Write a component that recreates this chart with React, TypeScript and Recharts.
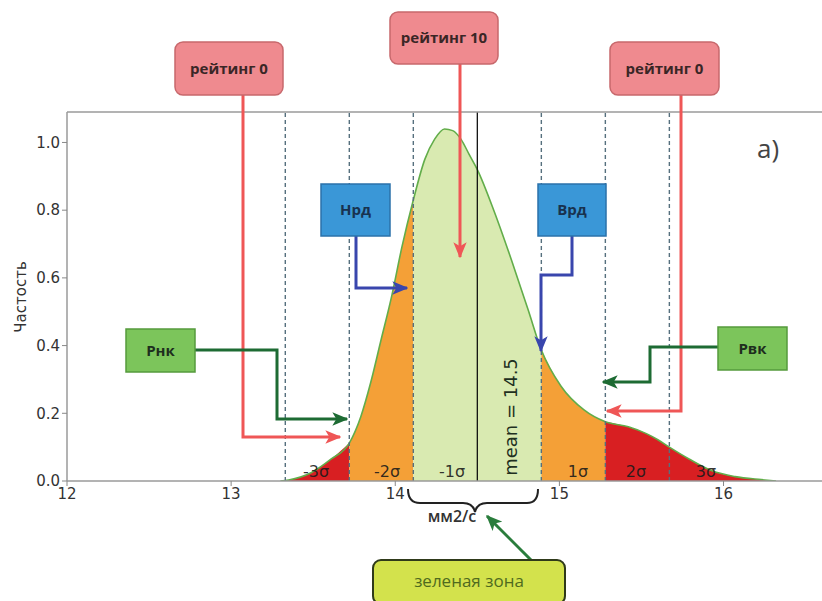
import React from 'react';
import { ComposedChart, Area, Line, XAxis, YAxis, ReferenceLine } from 'recharts';

// ---- data ----
const xValues = [13.30, 13.35, 13.49, 13.61, 13.72, 13.79, 13.85, 13.91, 13.98, 14.04, 14.11, 14.18, 14.24, 14.30, 14.35, 14.40, 14.45, 14.50, 14.60, 14.71, 14.81, 14.89, 15.01, 15.15, 15.28, 15.42, 15.53, 15.60, 15.67, 15.79, 15.93, 16.07, 16.23, 16.32];
const frequency = [0.0, 0.003, 0.025, 0.065, 0.112, 0.19, 0.29, 0.41, 0.55, 0.69, 0.83, 0.95, 1.01, 1.04, 1.035, 1.01, 0.965, 0.92, 0.80, 0.65, 0.505, 0.387, 0.28, 0.21, 0.175, 0.16, 0.14, 0.122, 0.10, 0.065, 0.03, 0.013, 0.004, 0.0];
const meanValue = 14.5;
const sigmaLines = [13.33, 13.72, 14.11, 14.89, 15.28, 15.67];
const xTicks = [12, 13, 14, 15, 16];
const yTicks = [0, 0.2, 0.4, 0.6, 0.8, 1.0];
const bandKeys = ['redL', 'orangeL', 'green', 'orangeR', 'redR'];
const bandFrom = [13.30, 13.72, 14.11, 14.89, 15.28];
const bandTo = [13.72, 14.11, 14.89, 15.28, 16.32];
const bandColors = ['#d81f22', '#f4a037', '#d9eab1', '#f4a037', '#d81f22'];
const sigmaLabels = ['-3σ', '-2σ', '-1σ', '1σ', '2σ', '3σ'];

const data = xValues.map((x, i) => {
  const row: Record<string, number | null> = { x, y: frequency[i] };
  bandKeys.forEach((k, b) => {
    row[k] = x >= bandFrom[b] - 1e-9 && x <= bandTo[b] + 1e-9 ? frequency[i] : null;
  });
  return row;
});

const RED = '#ef5656';
const BLUE = '#3946ad';
const DGREEN = '#1d6b33';
const FONT = '"DejaVu Sans", sans-serif';
const BOXFONT = '"Open Sans", "DejaVu Sans", sans-serif';

function Marker({ id, color }: { id: string; color: string }) {
  return (
    <marker id={id} viewBox="0 0 12 10" refX="11" refY="5" markerWidth="16" markerHeight="14" markerUnits="userSpaceOnUse" orient="auto">
      <path d="M0,0 L12,5 L0,10 L3,5 z" fill={color} />
    </marker>
  );
}

function Box({ x, y, w, h, fill, stroke, text, color, r = 0, size = 15 }: any) {
  return (
    <g>
      <rect x={x} y={y} width={w} height={h} rx={r} ry={r} fill={fill} stroke={stroke} strokeWidth={1.5} />
      <text x={x + w / 2} y={y + h / 2 + size * 0.36} textAnchor="middle" fontFamily={BOXFONT} fontWeight={700} fontSize={size} fill={color}>{text}</text>
    </g>
  );
}

function Overlay() {
  const sigmaX = [316, 387, 452, 578, 636, 706];
  return (
    <svg width={822} height={601} style={{ position: 'absolute', left: 0, top: 0, pointerEvents: 'none' }}>
      <defs>
        <Marker id="mRed" color={RED} />
        <Marker id="mBlue" color={BLUE} />
        <Marker id="mGreen" color={DGREEN} />
        <Marker id="mGreen2" color="#2a7d3c" />
      </defs>
      {/* top frame */}
      <line x1={67} y1={112} x2={822} y2={112} stroke="#9a9a9a" strokeWidth={1.5} />
      {/* y label */}
      <text transform="translate(26,297) rotate(-90)" textAnchor="middle" fontFamily={FONT} fontSize={15} fill="#333">Частость</text>
      {/* sigma labels */}
      {sigmaLabels.map((s, i) => (
        <text key={s} x={sigmaX[i]} y={477} textAnchor="middle" fontFamily={FONT} fontSize={16} fill="#1a1a1a" fillOpacity={0.9}>{s}</text>
      ))}
      <text transform="translate(517,417) rotate(-90)" textAnchor="middle" fontFamily={FONT} fontSize={18} fill="#1f301f">mean = 14.5</text>
      <text x={768} y={158} textAnchor="middle" fontFamily={BOXFONT} fontSize={26} fill="#444">a)</text>

      {/* red arrows */}
      <polyline points="243,95 243,437 340,437" fill="none" stroke={RED} strokeWidth={3} markerEnd="url(#mRed)" />
      <polyline points="460,64 460,257" fill="none" stroke={RED} strokeWidth={3} markerEnd="url(#mRed)" />
      <polyline points="681,95 681,411 607,411" fill="none" stroke={RED} strokeWidth={3} markerEnd="url(#mRed)" />
      {/* blue arrows */}
      <polyline points="356,236 356,288 407,288" fill="none" stroke={BLUE} strokeWidth={3} markerEnd="url(#mBlue)" />
      <polyline points="572,236 572,275 541,275 541,351" fill="none" stroke={BLUE} strokeWidth={3} markerEnd="url(#mBlue)" />
      {/* green arrows */}
      <polyline points="195,350 277,350 277,419 347,419" fill="none" stroke={DGREEN} strokeWidth={3} markerEnd="url(#mGreen)" />
      <polyline points="718,347 650,347 650,382 603,382" fill="none" stroke={DGREEN} strokeWidth={3} markerEnd="url(#mGreen)" />
      <polyline points="531,560 487,516" fill="none" stroke="#2a7d3c" strokeWidth={3} markerEnd="url(#mGreen2)" />

      {/* boxes */}
      <Box x={175} y={42} w={108} h={53} r={8} fill="#ef8a8f" stroke="#c7686c" text="рейтинг 0" color="#3a2626" />
      <Box x={390} y={12} w={108} h={52} r={8} fill="#ef8a8f" stroke="#c7686c" text="рейтинг 10" color="#3a2626" />
      <Box x={610} y={42} w={109} h={53} r={8} fill="#ef8a8f" stroke="#c7686c" text="рейтинг 0" color="#3a2626" />
      <Box x={321} y={184} w={69} h={52} fill="#3a97d7" stroke="#2b72aa" text="Нрд" color="#18324f" />
      <Box x={538} y={184} w={68} h={52} fill="#3a97d7" stroke="#2b72aa" text="Врд" color="#18324f" />
      <Box x={126} y={329} w={69} h={43} fill="#7cc55b" stroke="#559a3d" text="Рнк" color="#1e2e1e" />
      <Box x={718} y={327} w={69} h={43} fill="#7cc55b" stroke="#559a3d" text="Рвк" color="#1e2e1e" />

      {/* brace */}
      <path d="M408,489 Q408,503 420,503 L463,503 Q473,503 475,512 Q477,503 487,503 L527,503 Q538,503 538,489" fill="none" stroke="#222" strokeWidth={2} />
      <text x={452} y={522} textAnchor="middle" fontFamily={BOXFONT} fontWeight={600} fontSize={16} fill="#333">мм2/с</text>

      {/* green zone box */}
      <rect x={373} y={560} width={192} height={44} rx={8} ry={8} fill="#d3e24c" stroke="#2f3a1a" strokeWidth={2} />
      <text x={469} y={587} textAnchor="middle" fontFamily={BOXFONT} fontSize={17} fill="#4f6a1e">зеленая зона</text>
    </svg>
  );
}

export default function App() {
  return (
    <div style={{ position: 'absolute', left: 0, top: 0, width: 822, height: 601, background: '#fff', overflow: 'hidden' }}>
      <ComposedChart width={822} height={601} data={data} margin={{ top: 112, right: 0, bottom: 90, left: 0 }}>
        <XAxis dataKey="x" type="number" domain={[12, 16.6]} ticks={xTicks} allowDataOverflow height={30}
          tick={{ fontSize: 15, fill: '#333', fontFamily: FONT }} tickLine={{ stroke: '#888' }} tickSize={5}
          axisLine={{ stroke: '#9a9a9a', strokeWidth: 1.5 }} />
        <YAxis type="number" domain={[0, 1.09]} ticks={yTicks} allowDataOverflow width={67}
          tickFormatter={(v: number) => v.toFixed(1)}
          tick={{ fontSize: 15, fill: '#333', fontFamily: FONT }} tickLine={{ stroke: '#888' }} tickSize={5}
          axisLine={{ stroke: '#9a9a9a', strokeWidth: 1.5 }} />
        {bandKeys.map((k, b) => (
          <Area key={k} dataKey={k} type="monotone" fill={bandColors[b]} fillOpacity={1} stroke="none"
            isAnimationActive={false} connectNulls={false} dot={false} activeDot={false} />
        ))}
        <Line dataKey="y" type="monotone" stroke="#62ad4a" strokeWidth={1.6} dot={false} activeDot={false} isAnimationActive={false} />
        {sigmaLines.map((s) => (
          <ReferenceLine key={s} x={s} stroke="#56707e" strokeWidth={1.4} strokeDasharray="4 3" />
        ))}
        <ReferenceLine x={meanValue} stroke="#111" strokeWidth={1.3} />
      </ComposedChart>
      <Overlay />
    </div>
  );
}
